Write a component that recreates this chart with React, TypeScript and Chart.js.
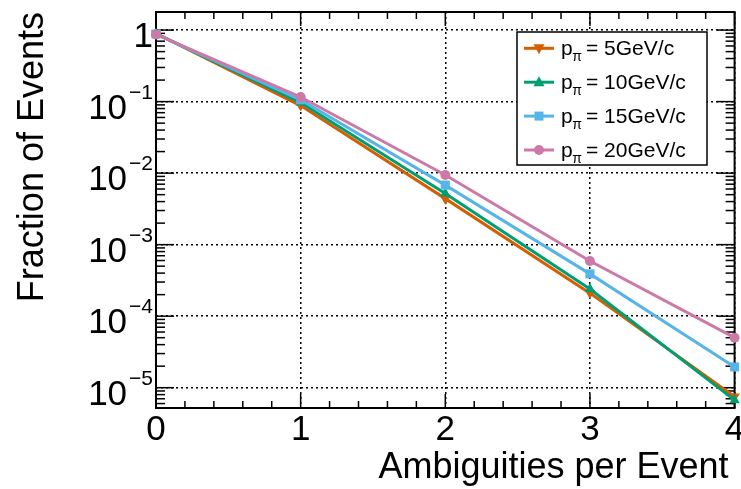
import React, { useEffect, useRef } from 'react';
import { Chart, registerables } from 'chart.js';

Chart.register(...registerables);

// ---- data ----
const ambiguities = [0, 1, 2, 3, 4];
const p5GeV = [0.9, 0.088, 0.0044, 2.1e-4, 7.5e-6];
const p10GeV = [0.89, 0.097, 0.0052, 2.4e-4, 6.7e-6];
const p15GeV = [0.88, 0.106, 0.0068, 3.9e-4, 1.95e-5];
const p20GeV = [0.87, 0.116, 0.0094, 5.9e-4, 5.0e-5];
const momentumLabels = ['5', '10', '15', '20'];
const yDecadeExponents = [0, -1, -2, -3, -4, -5];
const xTickLabels = ['0', '1', '2', '3', '4'];
const xTitle = 'Ambiguities per Event';
const yTitle = 'Fraction of Events';

const seriesValues = [p5GeV, p10GeV, p15GeV, p20GeV];
const seriesColors = ['#D55E00', '#009E73', '#56B4E9', '#CC79A7'];
const seriesMarkers = ['triangleDown', 'triangle', 'rect', 'circle'];

const FONT = '"Liberation Sans", Arial, Helvetica, sans-serif';

function drawMarker(ctx: CanvasRenderingContext2D, kind: string, x: number, y: number, color: string) {
  ctx.save();
  ctx.fillStyle = color;
  ctx.beginPath();
  if (kind === 'circle') {
    ctx.arc(x, y, 5, 0, Math.PI * 2);
  } else if (kind === 'rect') {
    ctx.rect(x - 4.5, y - 4.5, 9, 9);
  } else if (kind === 'triangle') {
    ctx.moveTo(x, y - 6);
    ctx.lineTo(x + 5.5, y + 4);
    ctx.lineTo(x - 5.5, y + 4);
    ctx.closePath();
  } else {
    ctx.moveTo(x, y + 6);
    ctx.lineTo(x + 5.5, y - 4);
    ctx.lineTo(x - 5.5, y - 4);
    ctx.closePath();
  }
  ctx.fill();
  ctx.restore();
}

const rootStylePlugin = {
  id: 'rootStyle',
  beforeDatasetsDraw(chart: any) {
    const ctx: CanvasRenderingContext2D = chart.ctx;
    const { left, right, top, bottom } = chart.chartArea;
    const xs = chart.scales.x;
    const ys = chart.scales.y;
    const line = (x1: number, y1: number, x2: number, y2: number) => {
      ctx.beginPath();
      ctx.moveTo(x1, y1);
      ctx.lineTo(x2, y2);
      ctx.stroke();
    };
    ctx.save();
    ctx.strokeStyle = '#000';
    ctx.lineWidth = 1.5;
    // x ticks (major at integers, 4 minor between)
    for (let k = 0; k <= 20; k++) {
      const px = xs.getPixelForValue(k / 5);
      const len = k % 5 === 0 ? 14 : 7;
      line(px, bottom, px, bottom - len);
      line(px, top, px, top + len);
    }
    // y ticks (log: major at decades, minor at 2..9)
    for (let e = -7; e <= 1; e++) {
      for (let m = 1; m <= 9; m++) {
        const v = m * Math.pow(10, e);
        if (v < ys.min || v > ys.max) continue;
        const py = ys.getPixelForValue(v);
        const len = m === 1 ? 18 : 9;
        line(left, py, left + len, py);
        line(right, py, right - len, py);
      }
    }
    // frame
    ctx.lineWidth = 2;
    ctx.strokeRect(left, top, right - left, bottom - top);

    // y tick labels with superscript exponents
    ctx.fillStyle = '#000';
    ctx.textAlign = 'right';
    ctx.textBaseline = 'alphabetic';
    const labelRight = 153;
    ys.ticks.forEach((t: any) => {
      const e = Math.round(Math.log10(t.value));
      const py = ys.getPixelForValue(t.value);
      if (e === 0) {
        ctx.font = `35px ${FONT}`;
        ctx.fillText('1', labelRight, py + 17);
      } else {
        const expText = '\u2212' + String(Math.abs(e));
        ctx.font = `21px ${FONT}`;
        const expW = ctx.measureText(expText).width;
        ctx.fillText(expText, labelRight, py - 3);
        ctx.font = `35px ${FONT}`;
        ctx.fillText('10', labelRight - expW - 2, py + 17);
      }
    });

    // x axis title (right-aligned under the axis, ROOT style)
    ctx.font = `36px ${FONT}`;
    ctx.textAlign = 'right';
    ctx.fillText(xTitle, right - 6, 478);
    ctx.restore();
  },
  afterDraw(chart: any) {
    const ctx: CanvasRenderingContext2D = chart.ctx;
    const lx = 517, ly = 32, lw = 190, lh = 133;
    ctx.save();
    ctx.fillStyle = '#fff';
    ctx.fillRect(lx, ly, lw, lh);
    ctx.strokeStyle = '#000';
    ctx.lineWidth = 1.5;
    ctx.strokeRect(lx, ly, lw, lh);
    chart.data.datasets.forEach((ds: any, i: number) => {
      const rowY = ly + 16.3 + i * 33.9;
      ctx.strokeStyle = ds.borderColor;
      ctx.lineWidth = 3;
      ctx.beginPath();
      ctx.moveTo(lx + 7, rowY);
      ctx.lineTo(lx + 37, rowY);
      ctx.stroke();
      drawMarker(ctx, seriesMarkers[i], lx + 22, rowY, ds.borderColor);
      ctx.fillStyle = '#000';
      ctx.textAlign = 'left';
      ctx.textBaseline = 'alphabetic';
      ctx.font = `21px ${FONT}`;
      ctx.fillText('p', lx + 44, rowY + 7);
      const pW = ctx.measureText('p').width;
      ctx.font = `14px ${FONT}`;
      ctx.fillText('\u03c0', lx + 44 + pW - 0.5, rowY + 13);
      ctx.font = `21px ${FONT}`;
      ctx.fillText(`= ${momentumLabels[i]}GeV/c`, lx + 69, rowY + 7);
    });
    ctx.restore();
  },
};

export default function App() {
  const canvasRef = useRef<HTMLCanvasElement>(null);

  useEffect(() => {
    const canvas = canvasRef.current;
    if (!canvas) return;
    const datasets = seriesValues.map((vals, i) => ({
      label: `p_pi = ${momentumLabels[i]}GeV/c`,
      data: ambiguities.map((x, j) => ({ x, y: vals[j] })),
      borderColor: seriesColors[i],
      backgroundColor: seriesColors[i],
      borderWidth: 3,
      pointStyle: seriesMarkers[i] === 'triangleDown' ? 'triangle' : seriesMarkers[i],
      pointRotation: seriesMarkers[i] === 'triangleDown' ? 180 : 0,
      pointRadius: seriesMarkers[i] === 'circle' ? 5 : seriesMarkers[i] === 'rect' ? 6.4 : 6,
      pointBorderWidth: 0,
      pointHoverRadius: 5,
      tension: 0,
      clip: false as any,
      order: seriesValues.length - i,
    }));

    const chart = new Chart(canvas, {
      type: 'line',
      data: { datasets },
      plugins: [rootStylePlugin],
      options: {
        animation: false,
        responsive: false,
        devicePixelRatio: 1,
        layout: { padding: { left: 0, right: 6, top: 12, bottom: 0 } },
        plugins: { legend: { display: false }, tooltip: { enabled: false } },
        scales: {
          x: {
            type: 'linear',
            min: 0,
            max: 4,
            afterBuildTicks: (s: any) => {
              s.ticks = xTickLabels.map((_, i) => ({ value: i }));
            },
            afterFit: (s: any) => {
              s.height = 81;
              s.paddingLeft = 0;
              s.paddingRight = 0;
            },
            ticks: {
              color: '#000',
              font: { family: FONT, size: 35 },
              padding: 1,
              maxRotation: 0,
              autoSkip: false,
              callback: (_v: any, i: number) => xTickLabels[i],
            },
            grid: { color: '#000', lineWidth: 1.5, drawTicks: false },
            border: { display: false, dash: [2, 3] },
            title: { display: false },
          },
          y: {
            type: 'logarithmic',
            min: 5.2e-6,
            max: 1.79,
            afterBuildTicks: (s: any) => {
              s.ticks = yDecadeExponents.map((e) => ({ value: Math.pow(10, e) }));
            },
            afterFit: (s: any) => {
              s.width = 156;
              s.paddingTop = 0;
              s.paddingBottom = 0;
            },
            ticks: { display: false },
            grid: { color: '#000', lineWidth: 1.5, drawTicks: false },
            border: { display: false, dash: [2, 3] },
            title: {
              display: true,
              text: yTitle,
              align: 'end',
              color: '#000',
              font: { family: FONT, size: 36 },
              padding: { top: 11, bottom: 0 },
            },
          },
        },
      } as any,
    });
    return () => chart.destroy();
  }, []);

  return (
    <div style={{ position: 'fixed', left: 0, top: 0, width: 741, height: 489, background: '#fff' }}>
      <canvas ref={canvasRef} width={741} height={489} style={{ display: 'block', width: 741, height: 489 }} />
    </div>
  );
}
